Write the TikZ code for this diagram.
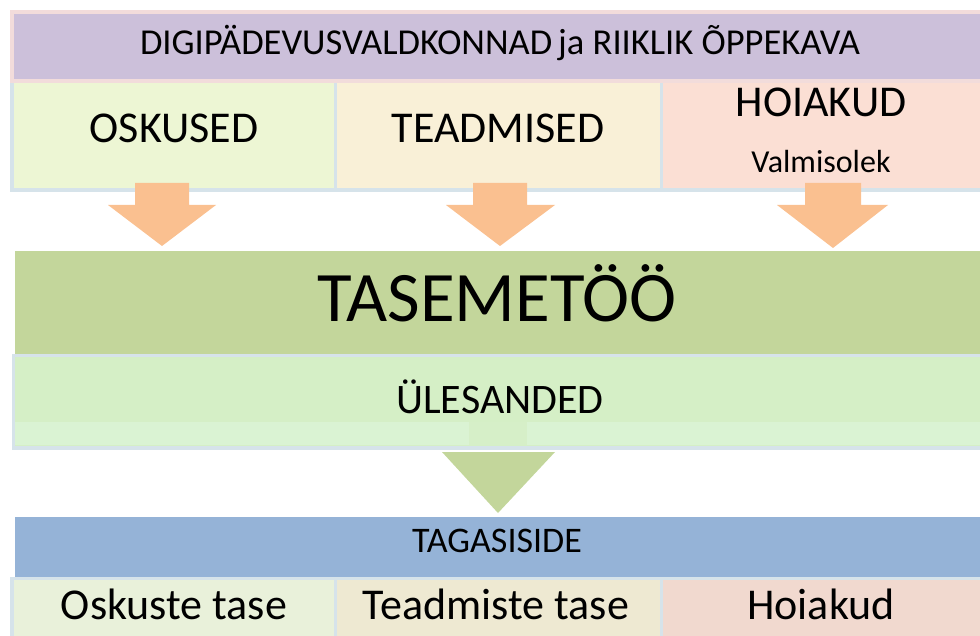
\documentclass[tikz,border=0pt]{standalone}
\usepackage{fontspec}
\setmainfont{Carlito}
\definecolor{pinkb}{HTML}{F2DCDB}
\definecolor{purp}{HTML}{CCC0DA}
\definecolor{blueb}{HTML}{D6E3EA}
\definecolor{cellA}{HTML}{EDF6D4}
\definecolor{cellB}{HTML}{F9F0D7}
\definecolor{cellC}{HTML}{FBDFD4}
\definecolor{orng}{HTML}{FAC090}
\definecolor{olive}{HTML}{C3D69B}
\definecolor{lgreen}{HTML}{D5EFC6}
\definecolor{lgreenb}{HTML}{DAF3D3}
\definecolor{shaft}{HTML}{D6EFC8}
\definecolor{blueband}{HTML}{95B3D7}
\definecolor{botA}{HTML}{E9F1DA}
\definecolor{botB}{HTML}{EEE9D2}
\definecolor{botC}{HTML}{F1D9CF}
\tikzset{
  box/.style={inner sep=0pt, outer sep=0pt, anchor=north west},
  lbl/.style={inner sep=0pt, outer sep=0pt, anchor=base, text=black},
}
\begin{document}
\begin{tikzpicture}[x=1pt,y=-1pt]
\useasboundingbox (0,0) rectangle (980,636);
% top band
\fill[pinkb] (10,10) rectangle (980,83);
\node[box, fill=purp, minimum width=966, minimum height=65] (top) at (14,14) {};
\node[lbl, font=\fontsize{36.5}{37}\selectfont] (toptxt) at (500,55) {DIGIPÄDEVUSVALDKONNAD\,ja RIIKLIK ÕPPEKAVA};
% row of three
\fill[blueb] (10,83) rectangle (980,192);
\node[box, fill=cellA, minimum width=320, minimum height=105] (osk) at (14,83) {};
\node[box, fill=cellB, minimum width=323, minimum height=105] (tea) at (337,83) {};
\node[box, fill=cellC, minimum width=317, minimum height=105] (hoi) at (663,83) {};
\node[lbl, font=\fontsize{44}{45}\selectfont] (osktxt) at (174,143) {OSKUSED};
\node[lbl, font=\fontsize{44}{45}\selectfont] (teatxt) at (498,143) {TEADMISED};
\node[lbl, font=\fontsize{44}{45}\selectfont] (hoitxt) at (821,117) {HOIAKUD};
\node[lbl, font=\fontsize{32}{33}\selectfont] (valtxt) at (821,173) {Valmisolek};
% orange arrows
\fill[orng] (135,183) -- (189,183) -- (189,205) -- (216,205) -- (162,246) -- (108,205) -- (135,205) -- cycle;
\fill[orng] (473,183) -- (527,183) -- (527,205) -- (555,205) -- (500,246) -- (446,205) -- (473,205) -- cycle;
\fill[orng] (805,183) -- (861,183) -- (861,205) -- (888,205) -- (833,248) -- (777,205) -- (805,205) -- cycle;
% TASEMETOO
\node[box, fill=olive, minimum width=965, minimum height=103] (tase) at (15,251) {};
\node[lbl, font=\fontsize{71}{72}\selectfont] (tasetxt) at (497,322) {TASEMETÖÖ};
% ULESANDED
\fill[blueb] (12,354) rectangle (980,450);
\node[box, fill=lgreen, minimum width=965, minimum height=89] (ules) at (15,357) {};
\fill[lgreenb] (15,422) rectangle (980,445);
\fill[shaft] (469,422) rectangle (527,445);
\node[lbl, font=\fontsize{42}{43}\selectfont] (ulestxt) at (500,413) {ÜLESANDED};
% green arrow head
\coordinate (ga) at (442,452);
\coordinate (gb) at (555,452);
\coordinate (gc) at (498,513);
\fill[olive] (ga) -- (gb) -- (gc) -- cycle;
% TAGASISIDE
\node[box, fill=blueband, minimum width=965, minimum height=60] (taga) at (15,517) {};
\node[lbl, font=\fontsize{36}{37}\selectfont] (tagatxt) at (497,552) {TAGASISIDE};
% bottom row
\fill[blueb] (10,577) rectangle (980,636);
\node[box, fill=botA, minimum width=320, minimum height=56] (bA) at (14,580) {};
\node[box, fill=botB, minimum width=323, minimum height=56] (bB) at (337,580) {};
\node[box, fill=botC, minimum width=317, minimum height=56] (bC) at (663,580) {};
\node[lbl, font=\fontsize{44}{45}\selectfont] (bAtxt) at (174,619) {Oskuste tase};
\node[lbl, font=\fontsize{44}{45}\selectfont] (bBtxt) at (496,619) {Teadmiste tase};
\node[lbl, font=\fontsize{44}{45}\selectfont] (bCtxt) at (821,619) {Hoiakud};
\end{tikzpicture}
\end{document}
